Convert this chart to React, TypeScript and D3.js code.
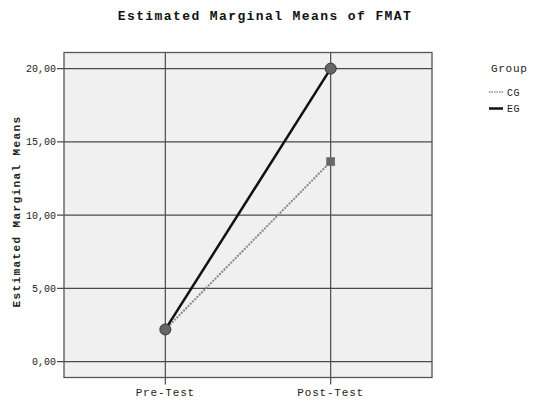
import React from "react";
import * as d3 from "d3";

const categories = ["Pre-Test", "Post-Test"];
const cgValues = [2.2, 13.65];
const egValues = [2.2, 20.0];
const yTicks = [0, 5, 10, 15, 20];
const groups = ["CG", "EG"];

const W = 533, H = 400;
const left = 64, right = 432, top = 52.5, bottom = 377.5;
const mono = "'Liberation Mono', 'Courier New', monospace";

export default function App() {
  const x = d3.scalePoint<string>().domain(categories).range([left, right]).padding(0.613);
  const y = d3.scaleLinear().domain([-1.08, 21.1]).range([bottom, top]);
  const line = d3.line<number>().x((_, i) => x(categories[i])!).y((d) => y(d));
  const fmt = (v: number) => v.toFixed(2).replace(".", ",");
  const grid = "#4a4a4a";
  return (
    <svg width={W} height={H} style={{ position: "absolute", left: 0, top: 0 }}>
      <rect width={W} height={H} fill="#fff" />
      <text x={265} y={20} textAnchor="middle" fontFamily={mono} fontWeight="bold" fontSize={13} letterSpacing={1.4} fill="#111">
        Estimated Marginal Means of FMAT
      </text>
      <rect x={left} y={top} width={right - left} height={bottom - top} fill="#f0f0f0" />
      {yTicks.map((t) => (
        <g key={t}>
          <line x1={left - 7} x2={right} y1={y(t)} y2={y(t)} stroke={grid} strokeWidth={1.2} />
          <text x={56} y={y(t) + 3.5} textAnchor="end" fontFamily={mono} fontSize={10} fill="#222">{fmt(t)}</text>
        </g>
      ))}
      {categories.map((c) => (
        <g key={c}>
          <line x1={x(c)} x2={x(c)} y1={top} y2={bottom + 7} stroke={grid} strokeWidth={1.2} />
          <text x={x(c)} y={396} textAnchor="middle" fontFamily={mono} fontSize={11} letterSpacing={0.8} fill="#222">{c}</text>
        </g>
      ))}
      <rect x={left} y={top} width={right - left} height={bottom - top} fill="none" stroke="#555" strokeWidth={1.3} />
      <text transform={`translate(20,211.5) rotate(-90)`} textAnchor="middle" fontFamily={mono} fontWeight="bold" fontSize={11} letterSpacing={1.4} fill="#222">
        Estimated Marginal Means
      </text>
      <path d={line(cgValues)!} fill="none" stroke="#888" strokeWidth={2} strokeDasharray="2,1.2" />
      <path d={line(egValues)!} fill="none" stroke="#111" strokeWidth={2.5} />
      {cgValues.map((v, i) => (
        <rect key={i} x={x(categories[i])! - 4} y={y(v) - 4} width={8} height={8} fill="#666" stroke="#777" strokeWidth={0.8} />
      ))}
      {egValues.map((v, i) => (
        <circle key={i} cx={x(categories[i])} cy={y(v)} r={5.5} fill="#666" stroke="#333" strokeWidth={1} />
      ))}
      <text x={491} y={72} fontFamily={mono} fontSize={11} letterSpacing={0.7} fill="#222">Group</text>
      {groups.map((g, i) => (
        <g key={g}>
          <line x1={489} x2={503} y1={92 + i * 16.5} y2={92 + i * 16.5}
            stroke={g === "CG" ? "#888" : "#111"} strokeWidth={g === "CG" ? 1.5 : 2.5}
            strokeDasharray={g === "CG" ? "1.5,1" : undefined} />
          <text x={507} y={95.5 + i * 16.5} fontFamily={mono} fontSize={10} letterSpacing={0.6} fill="#222">{g}</text>
        </g>
      ))}
    </svg>
  );
}
